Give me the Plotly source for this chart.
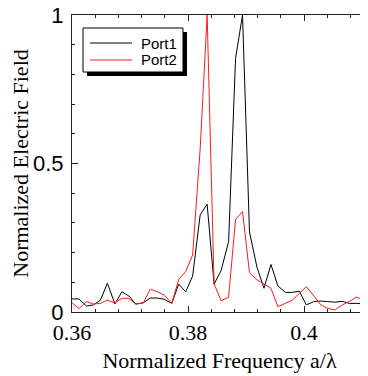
import plotly.graph_objects as go

# ---- data ----
freq = [0.3600, 0.3612, 0.3625, 0.3637, 0.3649, 0.3661, 0.3674, 0.3686, 0.3698, 0.3710,
        0.3723, 0.3735, 0.3747, 0.3759, 0.3772, 0.3784, 0.3796, 0.3808, 0.3821, 0.3833,
        0.3845, 0.3857, 0.3870, 0.3882, 0.3894, 0.3906, 0.3919, 0.3931, 0.3943, 0.3955,
        0.3968, 0.3980, 0.3992, 0.4004, 0.4017, 0.4029, 0.4041, 0.4053, 0.4066, 0.4078,
        0.4090, 0.4102, 0.4114]

port1 = [0.044, 0.044, 0.020, 0.024, 0.040, 0.097, 0.027, 0.068, 0.054, 0.027,
         0.031, 0.047, 0.047, 0.043, 0.029, 0.094, 0.068, 0.121, 0.327, 0.363,
         0.094, 0.139, 0.237, 0.854, 1.000, 0.270, 0.150, 0.080, 0.160, 0.088,
         0.066, 0.066, 0.070, 0.024, 0.035, 0.037, 0.035, 0.033, 0.036, 0.029,
         0.029, 0.027, 0.026]

port2 = [0.031, 0.012, 0.035, 0.027, 0.029, 0.040, 0.031, 0.046, 0.046, 0.026,
         0.031, 0.077, 0.068, 0.057, 0.029, 0.110, 0.136, 0.192, 0.550, 1.000,
         0.095, 0.038, 0.050, 0.312, 0.338, 0.132, 0.108, 0.094, 0.080, 0.018,
         0.029, 0.040, 0.063, 0.085, 0.054, 0.024, 0.012, 0.007, 0.024, 0.035,
         0.050, 0.042, 0.038]

series_names = ["Port1", "Port2"]
series_colors = ["black", "#ff1a1a"]

x_tickvals = [0.36, 0.38, 0.40]
x_ticktext = ["0.36", "0.38", "0.4"]
y_tickvals = [0, 0.5, 1]
y_ticktext = ["0", "0.5", "1"]

# ---- layout geometry (page body has an 8px margin) ----
OFF = 8
W, H = 368 - OFF, 376 - OFF
L, T = 72 - OFF, 15 - OFF
PLOT_R, PLOT_B = 367 - OFF, 312 - OFF
R, B = W - PLOT_R, H - PLOT_B
PW, PH = W - L - R, H - T - B


def px_x(p):
    return (p - OFF - L) / PW


def px_y(p):
    return (PLOT_B - (p - OFF)) / PH


fig = go.Figure()
for name, vals, col in zip(series_names, [port1, port2], series_colors):
    fig.add_trace(go.Scatter(x=freq, y=vals, mode="lines", name=name,
                             line=dict(color=col, width=1), showlegend=False))

axis_common = dict(showline=True, linecolor="#222", linewidth=1.2, mirror="allticks",
                   ticks="inside", ticklen=6, tickwidth=1, tickcolor="#222",
                   showgrid=False, zeroline=False, automargin=False,
                   ticklabeloverflow="allow")

fig.update_xaxes(range=[0.36, 0.36 + 0.02 * PW / 116], tickvals=x_tickvals, ticktext=x_ticktext,
                 tickfont=dict(family="Liberation Serif", size=22, color="black"),
                 ticklabelstandoff=0,
                 minor=dict(dtick=0.004, tick0=0.36, ticks="inside", ticklen=3, tickcolor="#222"),
                 title=dict(text="Normalized Frequency a/λ",
                            font=dict(family="Liberation Serif", size=22, color="black"),
                            standoff=9),
                 **axis_common)
fig.update_yaxes(range=[0, 1], tickvals=y_tickvals, ticktext=y_ticktext,
                 tickfont=dict(family="Liberation Sans", size=22, color="black"),
                 ticklabelstandoff=3,
                 minor=dict(dtick=0.1, tick0=0, ticks="inside", ticklen=3, tickcolor="#222"),
                 title=dict(text="Normalized Electric Field",
                            font=dict(family="Liberation Serif", size=22, color="black"),
                            standoff=3),
                 **axis_common)

# legend box (shadow + frame) with line samples and labels
fig.add_shape(type="rect", xref="paper", yref="paper",
              x0=px_x(87), x1=px_x(187), y0=px_y(76), y1=px_y(32),
              fillcolor="black", line=dict(width=0), layer="above")
fig.add_shape(type="rect", xref="paper", yref="paper",
              x0=px_x(83), x1=px_x(183), y0=px_y(72), y1=px_y(28),
              fillcolor="white", line=dict(color="black", width=1), layer="above")
for i, (name, col) in enumerate(zip(series_names, series_colors)):
    yy = 43 + 17 * i
    fig.add_shape(type="line", xref="paper", yref="paper",
                  x0=px_x(90), x1=px_x(132), y0=px_y(yy), y1=px_y(yy),
                  line=dict(color=col, width=1), layer="above")
    fig.add_annotation(xref="paper", yref="paper", x=px_x(139), y=px_y(yy),
                       xanchor="left", yanchor="middle", showarrow=False, text=name,
                       font=dict(family="Liberation Sans", size=15, color="black"))

fig.update_layout(
    width=W, height=H, margin=dict(l=L, r=R, t=T, b=B),
    paper_bgcolor="white", plot_bgcolor="white", showlegend=False,
)

fig.write_html("out.html")
